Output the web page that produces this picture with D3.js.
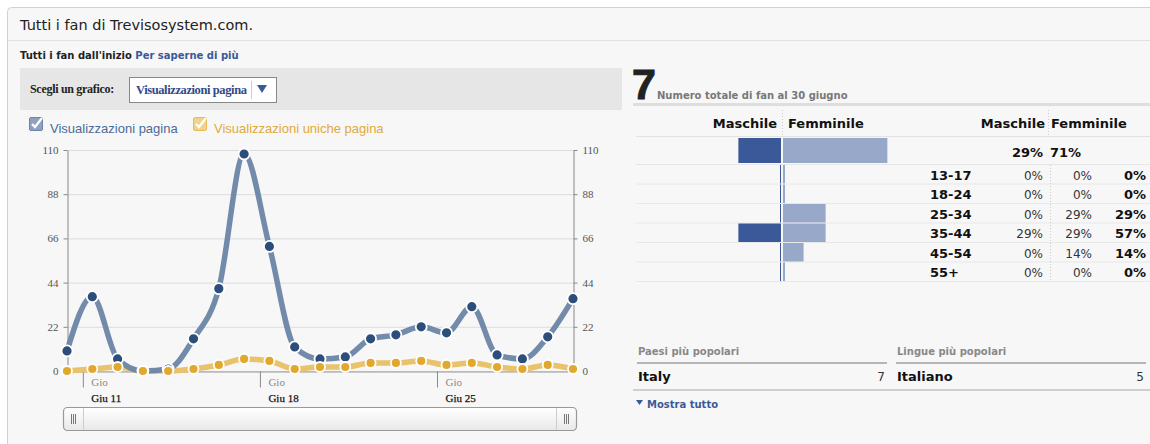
<!DOCTYPE html>
<html>
<head>
<meta charset="utf-8">
<script src="https://cdn.jsdelivr.net/npm/d3@7"></script>
<style>
  html, body { margin: 0; padding: 0; background: #fff; }
  svg { display: block; }
</style>
</head>
<body>
<div id="chart"></div>
<script>
// giorni di giugno 2009, un punto per giorno
const days = [10, 11, 12, 13, 14, 15, 16, 17, 18, 19, 20, 21, 22, 23, 24, 25, 26, 27, 28, 29, 30];
const pageViews = [10, 37, 6, 0, 1, 16, 41, 108, 62, 12, 6, 7, 16, 18, 22, 19, 32, 8, 6, 17, 36];
const uniqueViews = [0, 1, 2, 0, 0, 1, 3, 6, 5, 1, 2, 2, 4, 4, 5, 3, 4, 2, 1, 3, 1];
const yTicks = [0, 22, 44, 66, 88, 110];
const xTickDays = [11, 18, 25];

// dati demografici
const ageGroups = ["13-17", "18-24", "25-34", "35-44", "45-54", "55+"];
const malePct = [0, 0, 0, 29, 0, 0];
const femalePct = [0, 0, 29, 29, 14, 0];
const totalPct = [0, 0, 29, 57, 14, 0];
const totalMale = 29, totalFemale = 71;
const totalFans = 7;

const countries = [["Italy", 7]];
const languages = [["Italiano", 5]];

const W = 1150, H = 444;
const svg = d3.select("#chart").append("svg")
    .attr("width", W)
    .attr("height", H)
    .style("font-family", "'DejaVu Sans', sans-serif");

// cornice
svg.append("rect")
    .attr("x", 7.5).attr("y", 7.5)
    .attr("width", W + 10).attr("height", H)
    .attr("rx", 4)
    .attr("fill", "#f7f7f7")
    .attr("stroke", "#d2d2d2");
svg.append("line")
    .attr("x1", 8).attr("x2", W).attr("y1", 40.5).attr("y2", 40.5)
    .attr("stroke", "#e2e2e2");

svg.append("text")
    .attr("x", 20).attr("y", 30)
    .attr("font-size", 14.5).attr("fill", "#222")
    .text("Tutti i fan di Trevisosystem.com.");

const sub = svg.append("text")
    .attr("x", 20).attr("y", 59)
    .attr("font-size", 10).attr("font-weight", "bold").attr("fill", "#222");
sub.append("tspan").text("Tutti i fan dall'inizio ");
sub.append("tspan").attr("fill", "#3b5998").text("Per saperne di più");

// barra di selezione
svg.append("rect")
    .attr("x", 20).attr("y", 68).attr("width", 602).attr("height", 42)
    .attr("fill", "#e6e6e6");
svg.append("text")
    .attr("x", 30).attr("y", 93)
    .attr("font-family", "'Liberation Serif', serif")
    .attr("font-size", 12).attr("font-weight", "bold")
    .attr("letter-spacing", -0.3)
    .attr("fill", "#222")
    .text("Scegli un grafico:");
svg.append("rect")
    .attr("x", 129.5).attr("y", 77.5).attr("width", 147).attr("height", 25)
    .attr("fill", "#fff").attr("stroke", "#888");
svg.append("text")
    .attr("x", 136).attr("y", 94)
    .attr("font-family", "'Liberation Serif', serif")
    .attr("font-size", 12.5).attr("font-weight", "bold")
    .attr("letter-spacing", -0.4)
    .attr("fill", "#2f4a8a")
    .text("Visualizzazioni pagina");
svg.append("line")
    .attr("x1", 251.5).attr("x2", 251.5).attr("y1", 81).attr("y2", 99)
    .attr("stroke", "#ccc");
svg.append("path")
    .attr("d", "M257,85 L267,85 L262,93 Z")
    .attr("fill", "#3b5998");

// legenda
function checkbox(x, y, fill, stroke) {
    const g = svg.append("g").attr("transform", `translate(${x},${y})`);
    g.append("rect").attr("x", 0.5).attr("y", 0.5).attr("width", 13).attr("height", 13)
        .attr("rx", 1.5).attr("fill", fill).attr("stroke", stroke);
    g.append("path").attr("d", "M3,7 L6,10 L13,1")
        .attr("fill", "none").attr("stroke", "#fff").attr("stroke-width", 2.2);
}
checkbox(29, 117, "#8ea2c0", "#6c84a6");
svg.append("text").attr("x", 50).attr("y", 133)
    .attr("font-family", "'Liberation Sans', Arial, sans-serif")
    .attr("font-size", 13).attr("fill", "#4b6b9c")
    .text("Visualizzazioni pagina");
checkbox(193, 117, "#f1d38e", "#e6bb5c");
svg.append("text").attr("x", 214).attr("y", 133)
    .attr("font-family", "'Liberation Sans', Arial, sans-serif")
    .attr("font-size", 13).attr("fill", "#e0a93a")
    .text("Visualizzazioni uniche pagina");

// grafico a linee
const dates = days.map(d => new Date(2009, 5, d, 12));
const x = d3.scaleTime()
    .domain([dates[0], dates[dates.length - 1]])
    .range([67, 573]);
const y = d3.scaleLinear().domain([0, 110]).range([371, 150]);

const chart = svg.append("g");
chart.selectAll("line.grid").data(yTicks).join("line")
    .attr("class", "grid")
    .attr("x1", 67).attr("x2", 573)
    .attr("y1", d => y(d) + 0.5).attr("y2", d => y(d) + 0.5)
    .attr("stroke", "#dcdcdc");

const axisFont = g => g.call(s => s.select(".domain").attr("stroke", "#888"))
    .call(s => s.selectAll(".tick line").attr("stroke", "#888"))
    .call(s => s.selectAll(".tick text")
        .attr("font-family", "'Liberation Serif', serif")
        .attr("font-size", 11).attr("fill", "#555"));

chart.append("g")
    .attr("transform", "translate(67.5,0)")
    .call(d3.axisLeft(y).tickValues(yTicks).tickSize(4).tickSizeOuter(0).tickPadding(5))
    .call(axisFont);
chart.append("g")
    .attr("transform", "translate(573.5,0)")
    .call(d3.axisRight(y).tickValues(yTicks).tickSize(4).tickSizeOuter(0).tickPadding(5))
    .call(axisFont);

// asse x
const xAxis = chart.append("g").attr("transform", "translate(0,371.5)")
    .call(d3.axisBottom(x)
        .tickValues(xTickDays.map(d => new Date(2009, 5, d, 3)))
        .tickSize(16).tickSizeOuter(0)
        .tickFormat(() => ""));
xAxis.select(".domain").attr("stroke", "#999");
xAxis.selectAll(".tick line").attr("stroke", "#888");
xAxis.selectAll(".tick").each(function (d) {
    const t = d3.select(this);
    t.append("text").attr("x", 8).attr("y", 14)
        .attr("font-family", "'Liberation Serif', serif")
        .attr("font-size", 11).attr("fill", "#888")
        .attr("text-anchor", "start")
        .text("Gio");
    t.append("text").attr("x", 8).attr("y", 30)
        .attr("font-family", "'Liberation Serif', serif")
        .attr("font-size", 11).attr("fill", "#111")
        .attr("stroke", "#111").attr("stroke-width", 0.25)
        .attr("text-anchor", "start")
        .text("Giu " + d.getDate());
});

const line = d3.line()
    .x((d, i) => x(dates[i]))
    .y(d => y(d))
    .curve(d3.curveMonotoneX);

chart.append("path").datum(uniqueViews)
    .attr("d", line).attr("fill", "none")
    .attr("stroke", "#e9c26c").attr("stroke-width", 5.5)
    .attr("stroke-linecap", "round");
chart.append("path").datum(pageViews)
    .attr("d", line).attr("fill", "none")
    .attr("stroke", "#6c85a7").attr("stroke-width", 5.5)
    .attr("stroke-opacity", 0.95)
    .attr("stroke-linecap", "round");

chart.selectAll("circle.pv").data(pageViews).join("circle")
    .attr("class", "pv")
    .attr("cx", (d, i) => x(dates[i])).attr("cy", d => y(d))
    .attr("r", 5.5)
    .attr("fill", "#2d4e7b").attr("stroke", "#fff").attr("stroke-width", 1.8);
chart.selectAll("circle.uv").data(uniqueViews).join("circle")
    .attr("class", "uv")
    .attr("cx", (d, i) => x(dates[i])).attr("cy", d => y(d))
    .attr("r", 5)
    .attr("fill", "#e2a82e").attr("stroke", "#fff").attr("stroke-width", 1.8);

// barra di scorrimento
const sb = svg.append("g");
const grad = svg.append("defs").append("linearGradient")
    .attr("id", "sbg").attr("x1", 0).attr("x2", 0).attr("y1", 0).attr("y2", 1);
grad.append("stop").attr("offset", 0).attr("stop-color", "#ffffff");
grad.append("stop").attr("offset", 1).attr("stop-color", "#e8e8e8");
sb.append("rect")
    .attr("x", 63.5).attr("y", 407.5).attr("width", 513).attr("height", 23)
    .attr("rx", 4).attr("fill", "url(#sbg)").attr("stroke", "#999").attr("stroke-width", 1.2);
[[63.5, 83.5], [556.5, 576.5]].forEach(([a, b], k) => {
    sb.append("line")
        .attr("x1", k === 0 ? b : a).attr("x2", k === 0 ? b : a)
        .attr("y1", 408).attr("y2", 430)
        .attr("stroke", "#ccc");
    const cx = (a + b) / 2;
    [-2, 0, 2].forEach(o => sb.append("line")
        .attr("x1", cx + o).attr("x2", cx + o).attr("y1", 414).attr("y2", 424)
        .attr("stroke", "#777"));
});

// pannello destro
svg.append("text")
    .attr("x", 632).attr("y", 99)
    .attr("font-family", "'Liberation Sans', Arial, sans-serif")
    .attr("font-size", 43).attr("font-weight", "bold").attr("fill", "#222")
    .attr("stroke", "#222").attr("stroke-width", 1)
    .text(totalFans);
svg.append("text")
    .attr("x", 657).attr("y", 99)
    .attr("font-size", 10).attr("font-weight", "bold").attr("fill", "#777")
    .text("Numero totale di fan al 30 giugno");
svg.append("rect")
    .attr("x", 633).attr("y", 103).attr("width", W - 633).attr("height", 3)
    .attr("fill", "#dedede");

// intestazioni
const hdr = [["Maschile", 777, "end"], ["Femminile", 788, "start"],
             ["Maschile", 1045, "end"], ["Femminile", 1051, "start"]];
hdr.forEach(([t, hx, anchor]) => svg.append("text")
    .attr("x", hx).attr("y", 128)
    .attr("font-size", 13).attr("font-weight", "bold").attr("fill", "#111")
    .attr("text-anchor", anchor).text(t));
[782.5, 1048.5].forEach(dx => svg.append("line")
    .attr("x1", dx).attr("x2", dx).attr("y1", 110).attr("y2", 136)
    .attr("stroke", "#ccc").attr("stroke-dasharray", "1,2"));
svg.append("line").attr("x1", 636).attr("x2", W).attr("y1", 136.5).attr("y2", 136.5)
    .attr("stroke", "#e2e2e2");

const pct = d3.scaleLinear().domain([0, 100]).range([0, 147]);
const midX = 782;

// riga totale
svg.append("rect")
    .attr("x", midX - 1 - pct(totalMale)).attr("y", 138)
    .attr("width", pct(totalMale)).attr("height", 25)
    .attr("fill", "#3b5998");
svg.append("rect")
    .attr("x", midX + 1).attr("y", 138)
    .attr("width", pct(totalFemale)).attr("height", 25)
    .attr("fill", "#98a8c9");
svg.append("text").attr("x", 1043).attr("y", 157)
    .attr("font-size", 13).attr("font-weight", "bold").attr("fill", "#111")
    .attr("text-anchor", "end").text(totalMale + "%");
svg.append("text").attr("x", 1050).attr("y", 157)
    .attr("font-size", 13).attr("font-weight", "bold").attr("fill", "#111")
    .text(totalFemale + "%");
svg.append("line").attr("x1", 636).attr("x2", W).attr("y1", 164.5).attr("y2", 164.5)
    .attr("stroke", "#e6e6e6");

// righe per età
const rowY = d3.scaleBand().domain(ageGroups).range([165, 282]);
const rows = svg.append("g").selectAll("g").data(ageGroups).join("g")
    .attr("transform", d => `translate(0,${rowY(d)})`);
const rh = rowY.bandwidth();
rows.append("line").attr("x1", 636).attr("x2", W)
    .attr("y1", rh - 0.5).attr("y2", rh - 0.5)
    .attr("stroke", "#e8e8e8");
rows.append("rect")
    .attr("x", (d, i) => midX - 1 - Math.max(pct(malePct[i]), 1))
    .attr("width", (d, i) => Math.max(pct(malePct[i]), 1))
    .attr("y", 0).attr("height", rh - 1)
    .attr("fill", "#3b5998");
rows.append("rect")
    .attr("x", midX + 1)
    .attr("width", (d, i) => Math.max(pct(femalePct[i]), 2))
    .attr("y", 0).attr("height", rh - 1)
    .attr("fill", "#98a8c9");
rows.append("text").attr("x", 930).attr("y", rh / 2 + 5)
    .attr("font-size", 13).attr("font-weight", "bold").attr("fill", "#111")
    .text(d => d);
rows.append("text").attr("x", 1043).attr("y", rh / 2 + 5)
    .attr("font-size", 12).attr("fill", "#333").attr("text-anchor", "end")
    .text((d, i) => malePct[i] + "%");
rows.append("text").attr("x", 1092).attr("y", rh / 2 + 5)
    .attr("font-size", 12).attr("fill", "#333").attr("text-anchor", "end")
    .text((d, i) => femalePct[i] + "%");
rows.append("text").attr("x", 1146).attr("y", rh / 2 + 5)
    .attr("font-size", 13).attr("font-weight", "bold").attr("fill", "#111")
    .attr("text-anchor", "end")
    .text((d, i) => totalPct[i] + "%");
svg.append("line").attr("x1", 1050.5).attr("x2", 1050.5).attr("y1", 165).attr("y2", 282)
    .attr("stroke", "#ccc").attr("stroke-dasharray", "1,2");

// paesi e lingue
function topList(x0, x1, title, items) {
    svg.append("text").attr("x", x0 + 1).attr("y", 355)
        .attr("font-size", 10).attr("font-weight", "bold").attr("fill", "#888")
        .text(title);
    svg.append("rect").attr("x", x0).attr("y", 362).attr("width", x1 - x0).attr("height", 2)
        .attr("fill", "#b5b5b5");
    items.forEach(([name, n], i) => {
        svg.append("text").attr("x", x0 + 1).attr("y", 381 + i * 20)
            .attr("font-size", 13).attr("font-weight", "bold").attr("fill", "#111")
            .text(name);
        svg.append("text").attr("x", x1 - 2).attr("y", 381 + i * 20)
            .attr("font-size", 12).attr("fill", "#333").attr("text-anchor", "end")
            .text(n);
    });
}
topList(637, 887, "Paesi più popolari", countries);
topList(896, 1146, "Lingue più popolari", languages);
svg.append("rect").attr("x", 633).attr("y", 389).attr("width", W - 633).attr("height", 2)
    .attr("fill", "#cfcfcf");
svg.append("path").attr("d", "M636,400 L643,400 L639.5,405 Z").attr("fill", "#3b5998");
svg.append("text").attr("x", 647).attr("y", 408)
    .attr("font-size", 10).attr("font-weight", "bold").attr("fill", "#3b5998")
    .text("Mostra tutto");
</script>
</body>
</html>
